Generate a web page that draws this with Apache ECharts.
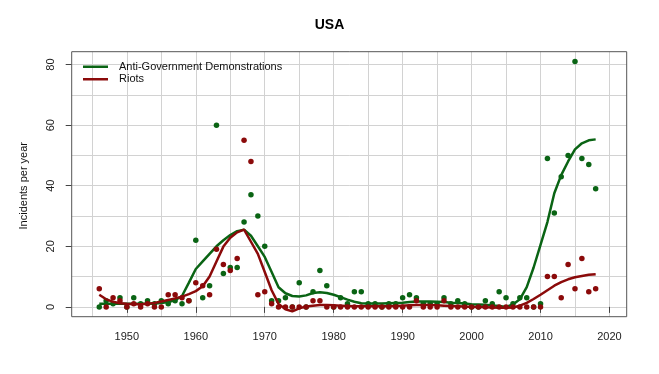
<!DOCTYPE html>
<html>
<head>
<meta charset="utf-8">
<script src="https://cdn.jsdelivr.net/npm/echarts@6/dist/echarts.min.js"></script>
<style>
html,body{margin:0;padding:0;background:#fff;}
#c{width:659px;height:374px;}
</style>
</head>
<body>
<div id="c"></div>
<script>
const years = [1946,1947,1948,1949,1950,1951,1952,1953,1954,1955,
  1956,1957,1958,1959,1960,1961,1962,1963,1964,1965,
  1966,1967,1968,1969,1970,1971,1972,1973,1974,1975,
  1976,1977,1978,1979,1980,1981,1982,1983,1984,1985,
  1986,1987,1988,1989,1990,1991,1992,1993,1994,1995,
  1996,1997,1998,1999,2000,2001,2002,2003,2004,2005,
  2006,2007,2008,2009,2010,2011,2012,2013,2014,2015,
  2016,2017,2018];

const demoPoints = [0,2,1,3,0,3,1,2,1,2,
  1,2,1,2,22,3,7,60,11,13,
  13,28,37,30,20,2,2,3,0,8,
  0,5,12,7,0,3,1,5,5,1,
  1,0,1,1,3,4,3,1,1,1,
  3,1,2,1,0,0,2,1,5,3,
  1,3,3,0,1,49,31,43,50,81,
  49,47,39];

const riotPoints = [6,0,3,2,0,1,0,1,0,0,
  4,4,3,2,8,7,4,19,14,12,
  16,55,48,4,5,1,0,0,0,0,
  0,2,2,0,0,0,0,0,0,0,
  0,0,0,0,0,0,2,0,0,0,
  2,0,0,0,0,0,0,0,0,0,
  0,0,0,0,0,10,10,3,14,6,
  16,5,6];

const demoSmooth = [1.0,1.0,1.0,1.0,1.0,1.0,1.0,1.0,1.1,1.3,
  1.6,2.2,3.6,8.0,12.5,15.0,17.5,20.0,22.0,23.7,
  25.0,25.5,23.5,20.0,16.5,11.5,6.5,4.5,3.6,3.4,
  3.8,4.6,4.8,4.6,4.0,3.2,2.4,1.7,1.2,1.1,
  1.1,1.1,1.2,1.3,1.4,1.6,1.8,1.8,1.8,1.7,
  1.6,1.4,1.3,1.1,0.9,0.8,0.7,0.5,0.3,0.0,
  0.8,2.5,6.5,13.0,20.5,28.0,37.5,43.5,48.0,52.0,
  54.0,55.0,55.3];

const riotSmooth = [4.0,2.5,1.7,1.2,1.0,0.9,0.9,1.0,1.3,1.8,
  2.3,2.8,3.4,4.2,5.2,6.8,10.0,15.0,19.9,22.8,
  24.6,25.5,21.5,17.5,11.5,5.5,1.0,-0.8,-1.5,-0.5,
  0.1,0.4,0.6,0.6,0.5,0.4,0.3,0.2,0.2,0.2,
  0.2,0.2,0.2,0.3,0.4,0.5,0.6,0.6,0.6,0.5,
  0.4,0.3,0.2,0.1,0.0,0.0,-0.1,-0.2,-0.3,-0.3,
  -0.2,0.4,1.3,2.6,4.0,5.5,7.0,8.2,9.1,9.8,
  10.2,10.6,10.8];

const xTickLabels = [1950,1960,1970,1980,1990,2000,2010,2020];
const yTickLabels = [0,20,40,60,80];
const seriesNames = ['Anti-Government Demonstrations','Riots'];
const titleText = 'USA';
const yTitle = 'Incidents per year';

// layout
const box = {left:71.7, right:626.7, top:51.7, bottom:316.7};
const xr = [1942, 2022.5], yr = [-3.24, 84.24];
const px = v => box.left + (v - xr[0]) / (xr[1]-xr[0]) * (box.right-box.left);
const py = v => box.bottom - (v - yr[0]) / (yr[1]-yr[0]) * (box.bottom-box.top);

const GREEN = '#0a6414', RED = '#8b0a0a';
const FONT = 'Liberation Sans, Arial, sans-serif';

const pairs = (xs, ys) => xs.map((x,i)=>[x, ys[i]]);

const hidden = {show:false};
function hiddenAxis(extra){ return Object.assign({type:'value', axisLine:hidden, axisTick:hidden, axisLabel:hidden, splitLine:hidden}, extra); }
function mkGrid(o){ return Object.assign({outerBoundsMode:'none', containLabel:false}, o); }

const option = {
  backgroundColor:'#fff',
  animation:false,
  title:{text:titleText, left:'center', top:13, textStyle:{fontFamily:FONT, fontSize:14, fontWeight:'bold', color:'#000'}},
  legend:{
    orient:'vertical', left:83, top:60.5, padding:0, itemWidth:25, itemHeight:2.5, itemGap:0,
    icon:'rect',
    data:seriesNames,
    textStyle:{fontFamily:FONT, fontSize:11, color:'#111', lineHeight:12.5, padding:[0,0,0,6]}
  },
  grid:[
    mkGrid({left:box.left, width:box.right-box.left, top:box.top, height:box.bottom-box.top, show:true, borderColor:'#555', borderWidth:1, backgroundColor:'transparent', z:5}),
    mkGrid({left:px(1945), width:px(2020)-px(1945), top:box.top, height:box.bottom-box.top}),
    mkGrid({left:box.left, width:box.right-box.left, top:py(80), height:py(0)-py(80)}),
    mkGrid({left:px(1950), width:px(2020)-px(1950), top:py(80), height:py(0)-py(80)})
  ],
  xAxis:[
    hiddenAxis({gridIndex:0, min:xr[0], max:xr[1]}),
    hiddenAxis({gridIndex:1, min:1945, max:2020, interval:5, splitLine:{show:true, lineStyle:{color:'#d2d2d2', width:1}}}),
    hiddenAxis({gridIndex:2, min:0, max:1}),
    {type:'value', gridIndex:3, min:xTickLabels[0], max:xTickLabels[xTickLabels.length-1], interval:10,
     position:'bottom', offset:box.bottom-py(0),
     axisLine:{show:false}, splitLine:{show:false},
     axisTick:{show:true, length:6, lineStyle:{color:'#444'}},
     axisLabel:{show:true, margin:15, fontFamily:FONT, fontSize:11, color:'#222', formatter:v=>String(v)}}
  ],
  yAxis:[
    hiddenAxis({gridIndex:0, min:yr[0], max:yr[1]}),
    hiddenAxis({gridIndex:1, min:0, max:1}),
    hiddenAxis({gridIndex:2, min:0, max:80, interval:10, splitLine:{show:true, lineStyle:{color:'#d2d2d2', width:1}}}),
    {type:'value', gridIndex:3, min:yTickLabels[0], max:yTickLabels[yTickLabels.length-1], interval:20,
     position:'left', offset:px(1950)-box.left,
     axisLine:{show:false}, splitLine:{show:false},
     axisTick:{show:true, length:6, lineStyle:{color:'#444'}},
     axisLabel:{show:true, rotate:90, margin:15, fontFamily:FONT, fontSize:11, color:'#222', formatter:v=>String(v)},
     name:yTitle, nameLocation:'middle', nameGap:42, nameRotate:90,
     nameTextStyle:{fontFamily:FONT, fontSize:11, color:'#111'}}
  ],
  series:[
    {name:seriesNames[0]+' pts', type:'scatter', xAxisIndex:0, yAxisIndex:0, symbol:'circle', symbolSize:5.5,
     itemStyle:{color:GREEN, opacity:1}, data:pairs(years, demoPoints), z:6},
    {name:seriesNames[0], type:'line', xAxisIndex:0, yAxisIndex:0, symbol:'none', smooth:false,
     color:GREEN, lineStyle:{color:GREEN, width:2.5}, data:pairs(years, demoSmooth), z:7},
    {name:seriesNames[1]+' pts', type:'scatter', xAxisIndex:0, yAxisIndex:0, symbol:'circle', symbolSize:5.5,
     itemStyle:{color:RED, opacity:1}, data:pairs(years, riotPoints), z:8},
    {name:seriesNames[1], type:'line', xAxisIndex:0, yAxisIndex:0, symbol:'none', smooth:false,
     color:RED, lineStyle:{color:RED, width:2.5}, data:pairs(years, riotSmooth), z:9}
  ]
};

const chart = echarts.init(document.getElementById('c'), null, {renderer:'canvas'});
chart.setOption(option);
</script>
</body>
</html>
